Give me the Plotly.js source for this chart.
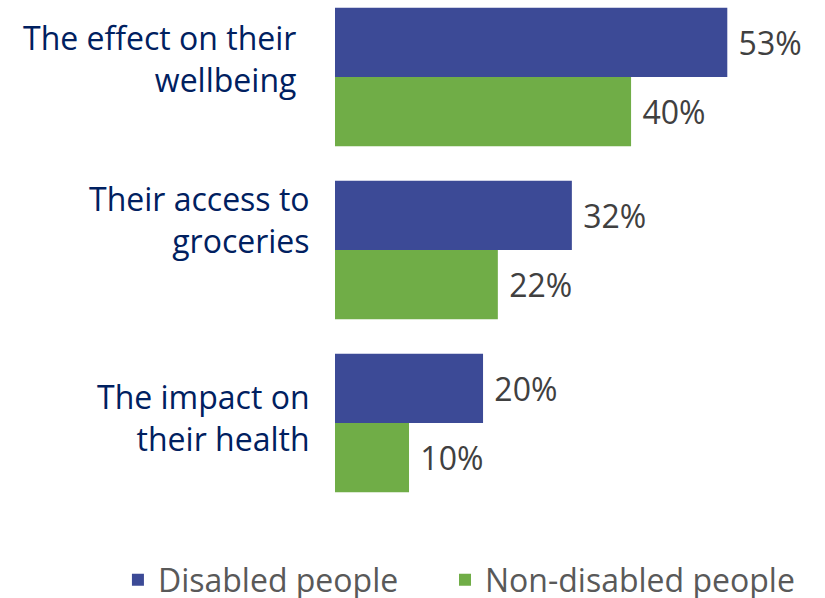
<!DOCTYPE html>
<html><head><meta charset="utf-8">
<script src="https://cdn.plot.ly/plotly-3.0.1.min.js"></script>
<style>html,body{margin:0;padding:0;background:#fff}</style>
</head><body>
<div id="chart" style="width:825px;height:598px"></div>
<script>
const categories = ["The effect on their<br>wellbeing", "Their access to<br>groceries", "The impact on<br>their health"];
const disabled = [53, 32, 20];
const nonDisabled = [40, 22, 10];
const seriesNames = ["Disabled people", "Non-disabled people"];

const valFont = {family: "Open Sans, sans-serif", size: 32, color: "#404040"};
const traces = [
  {type: "bar", orientation: "h", name: seriesNames[0], y: categories, x: disabled, legend: "legend",
   marker: {color: "#3C4A96"}, text: disabled.map(v => v + "%"), texttemplate: " %{text}",
   textposition: "outside", textfont: valFont, cliponaxis: false, hoverinfo: "skip"},
  {type: "bar", orientation: "h", name: seriesNames[1], y: categories, x: nonDisabled, legend: "legend2",
   marker: {color: "#70AD47"}, text: nonDisabled.map(v => v + "%"), texttemplate: " %{text}",
   textposition: "outside", textfont: valFont, cliponaxis: false, hoverinfo: "skip"}
];

// category labels placed as in the original slide (text boxes slightly offset)
const labelOffsets = [{dx: -37, dy: 18}, {dx: -23, dy: 30}, {dx: -23, dy: 5}];
const annotations = categories.map((c, i) => ({
  xref: "paper", yref: "y", x: 0, y: c, text: c, showarrow: false,
  xanchor: "right", yanchor: "middle", align: "right",
  xshift: labelOffsets[i].dx, yshift: labelOffsets[i].dy,
  font: {family: "Open Sans, sans-serif", size: 32, color: "#002060"}
}));

const legFont = {family: "Open Sans, sans-serif", size: 32, color: "#595959"};
const layout = {
  width: 825, height: 598,
  margin: {l: 335, r: 0, t: 0, b: 88, autoexpand: false},
  paper_bgcolor: "#fff", plot_bgcolor: "#fff",
  barmode: "group", bargap: 0.2, bargroupgap: 0,
  xaxis: {range: [0, 66.2], visible: false, showgrid: false, zeroline: false, fixedrange: true},
  yaxis: {type: "category", range: [2.503, -0.445], showgrid: false, zeroline: false, showline: false,
          ticks: "", showticklabels: false, automargin: false},
  annotations: annotations,
  showlegend: true,
  legend: {orientation: "h", xref: "paper", x: -0.443, xanchor: "left",
           yref: "paper", y: -0.137, yanchor: "middle", font: legFont, itemwidth: 30},
  legend2: {orientation: "h", xref: "paper", x: 0.2245, xanchor: "left",
           yref: "paper", y: -0.137, yanchor: "middle", font: legFont, itemwidth: 30},
  font: {family: "Open Sans, sans-serif"}
};
Plotly.newPlot("chart", traces, layout, {displayModeBar: false, staticPlot: true});
</script>
</body></html>
